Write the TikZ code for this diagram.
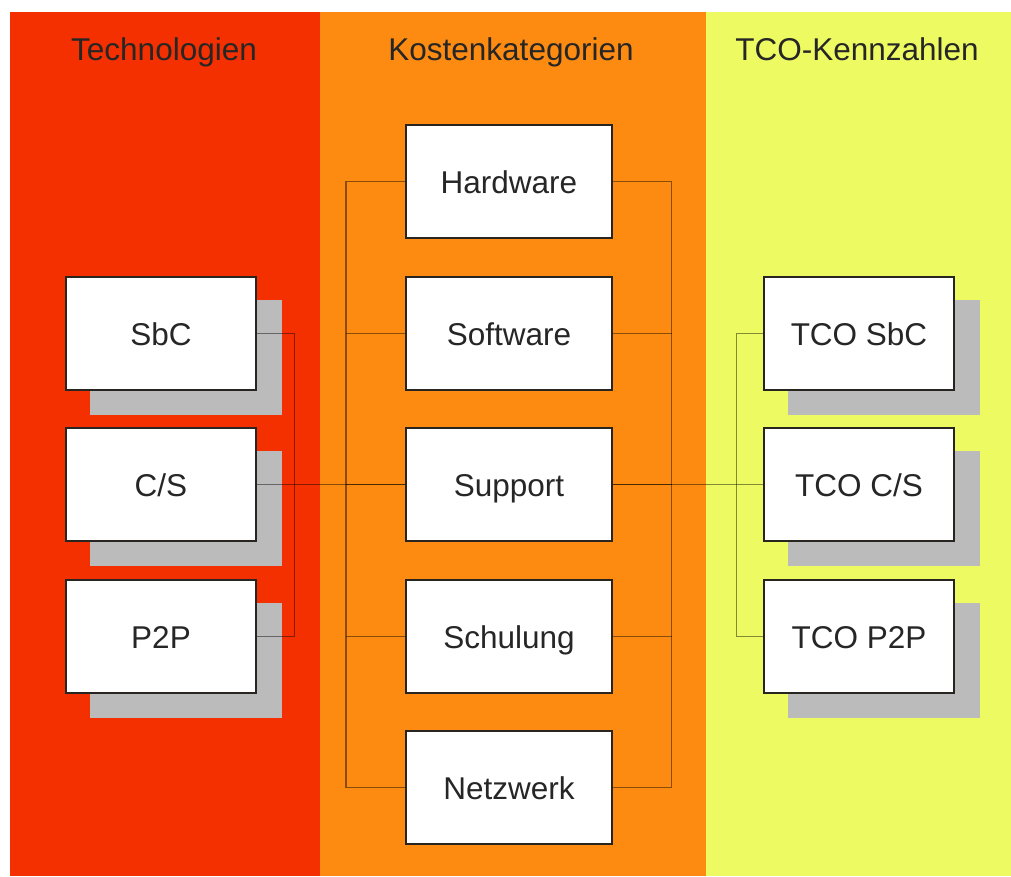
\documentclass[tikz,border=0pt]{standalone}
\usepackage{fontspec}
\setmainfont{Liberation Sans}
\begin{document}
\pgfdeclarelayer{bg}
\pgfdeclarelayer{shd}
\pgfdeclarelayer{ln}
\pgfsetlayers{bg,shd,ln,main}
\definecolor{colred}{RGB}{245,48,0}
\definecolor{colorange}{RGB}{253,139,18}
\definecolor{colyellow}{RGB}{238,250,98}
\definecolor{shadowgray}{RGB}{187,187,187}
\definecolor{boxborder}{RGB}{40,36,32}
\begin{tikzpicture}[x=1pt,y=-1pt,
  title/.style={font=\fontsize{31.5}{36}\selectfont, text=black!85, anchor=base},
  box/.style={draw=boxborder, line width=1.8pt, fill=white, minimum height=113pt,
    font=\fontsize{31.5}{36}\selectfont, text=black!85, text height=23pt, text depth=0pt, inner sep=0pt},
  sidebox/.style={box, minimum width=190pt},
  midbox/.style={box, minimum width=206pt},
  conn/.style={draw=black, draw opacity=0.45, line width=1.1pt},
  shadowfill/.style={fill=shadowgray}]
\useasboundingbox (0,0) rectangle (1011,876);
\begin{pgfonlayer}{bg}
\fill[white] (0,0) rectangle (1011,876);
\fill[colred] (9.5,12) rectangle (320,876);
\fill[colorange] (320,12) rectangle (706,876);
\fill[colyellow] (706,12) rectangle (1011,876);
\end{pgfonlayer}
% titles
\node[title] (t1) at (164,60) {Technologien};
\node[title] (t2) at (511,60) {Kostenkategorien};
\node[title] (t3) at (857,60) {TCO-Kennzahlen};
% left boxes
\node[sidebox] (sbc) at (161,333.5) {SbC};
\node[sidebox] (cs) at (161,484.5) {C/S};
\node[sidebox] (p2p) at (161,636.5) {P2P};
% middle boxes
\node[midbox] (hw) at (509,181.5) {Hardware};
\node[midbox] (sw) at (509,333.5) {Software};
\node[midbox] (sup) at (509,484.5) {Support};
\node[midbox] (sch) at (509,636.5) {Schulung};
\node[midbox] (nw) at (509,787.5) {Netzwerk};
% right boxes
\node[sidebox] (tsbc) at (859,333.5) {TCO SbC};
\node[sidebox] (tcs) at (859,484.5) {TCO C/S};
\node[sidebox] (tp2p) at (859,636.5) {TCO P2P};
% shadows
\begin{pgfonlayer}{shd}
\foreach \n in {sbc,cs,p2p,tsbc,tcs,tp2p}
  \fill[shadowfill] ([shift={(25,24)}]\n.north west) rectangle ([shift={(25,24)}]\n.south east);
\end{pgfonlayer}
% connectors
\coordinate (lbx) at (346,0);
\coordinate (rbx) at (671.5,0);
\begin{pgfonlayer}{ln}
\draw[conn] (sbc.east) -- ++(38,0) |- (p2p.east);
\draw[conn] (cs.east) -- (sup.west);
\draw[conn] (hw.west) -- (hw.west -| lbx) |- (nw.west);
\foreach \n in {sw,sup,sch}
  \draw[conn] (\n.west) -- (\n.west -| lbx);
\draw[conn] (hw.east) -- (hw.east -| rbx) |- (nw.east);
\foreach \n in {sw,sup,sch}
  \draw[conn] (\n.east) -- (\n.east -| rbx);
\draw[conn] (sup.east) -- (tcs.west);
\draw[conn] (tsbc.west) -- ++(-27,0) |- (tp2p.west);
\end{pgfonlayer}
\end{tikzpicture}
\end{document}
